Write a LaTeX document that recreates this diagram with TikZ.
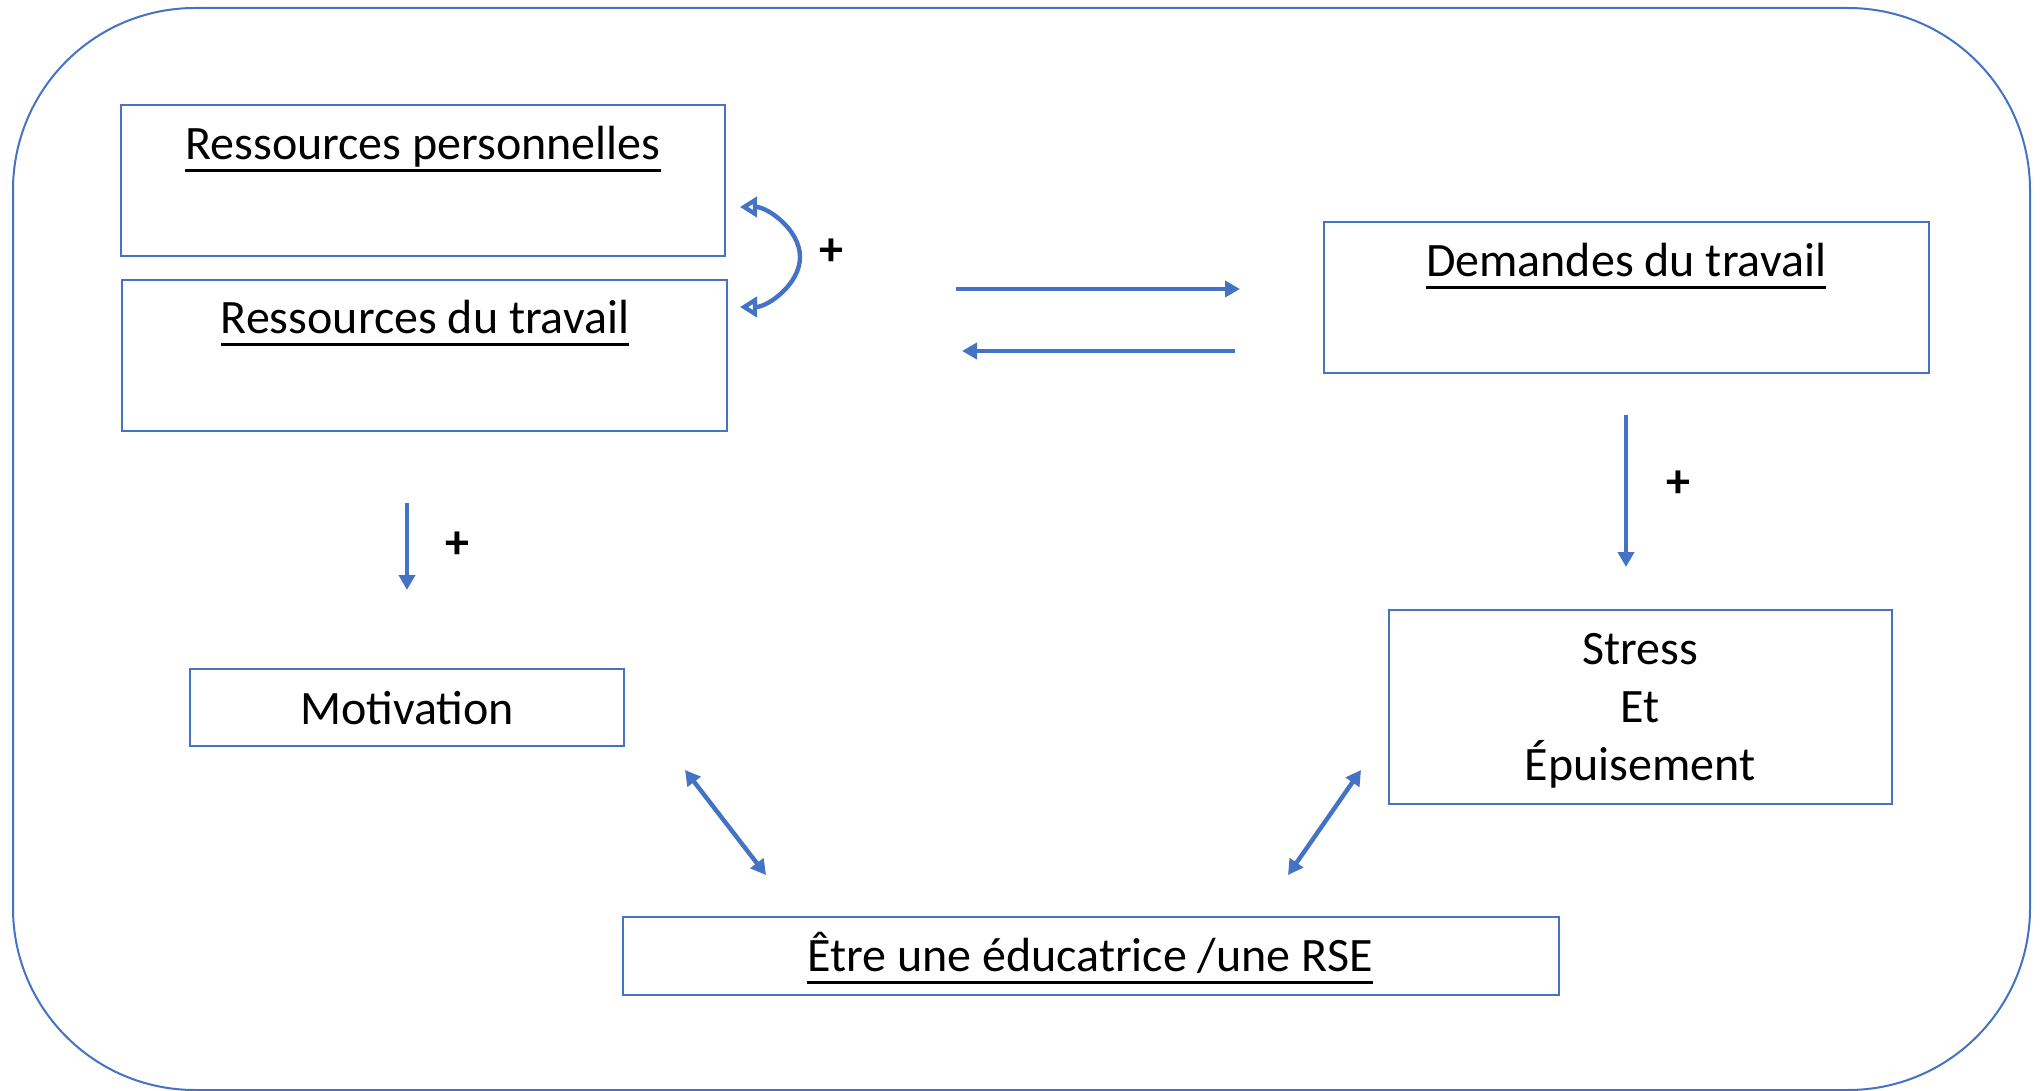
\documentclass[tikz,border=0pt]{standalone}
\usepackage{fontspec}
\setmainfont{Carlito}
\usetikzlibrary{arrows.meta}
\definecolor{bl}{HTML}{4472C4}
\newcommand\myul[1]{\setbox0\hbox{#1}\rlap{\rule[-6.2pt]{\wd0}{1.3pt}}\box0}
\begin{document}
\begin{tikzpicture}[x=0.5pt,y=-0.5pt,
  box/.style={draw=bl,line width=1pt,inner sep=0pt},
  lbl/.style={inner sep=0pt,font=\fontsize{24}{29}\selectfont,align=center},
  plus/.style={inner sep=0pt,font=\fontsize{24}{29}\selectfont\bfseries},
  arr/.style={draw=bl,line width=2.2pt,-{Triangle[length=7.5pt,width=8pt]}},
  darr/.style={draw=bl,line width=2.2pt,{Triangle[length=7.5pt,width=8pt]}-{Triangle[length=7.5pt,width=8pt]}},
  oarr/.style={draw=bl,line width=2.2pt,{Triangle[open,length=8.5pt,width=10pt]}-{Triangle[open,length=8.5pt,width=10pt]}}]
\useasboundingbox (0,0) rectangle (2040,1091);
\node[draw=bl,line width=1pt,rounded corners=91pt,minimum width=1008.5pt,minimum height=541pt,inner sep=0pt] (outer) at (1021.5,549) {};
% boxes
\node[box,minimum width=302pt,minimum height=75.5pt] (rp) at (423,180.5) {};
\node[box,minimum width=302.5pt,minimum height=75.5pt] (rt) at (424.5,355.5) {};
\node[box,minimum width=302.5pt,minimum height=75.5pt] (dt) at (1626.5,297.5) {};
\node[box,minimum width=217pt,minimum height=38.5pt] (mot) at (407,707.5) {};
\node[box,minimum width=251.5pt,minimum height=97pt] (st) at (1640.5,707) {};
\node[box,minimum width=468pt,minimum height=39pt] (et) at (1091,956) {};
% labels
\node[lbl] (rpl) at (423,149) {\myul{Ressources personnelles}};
\node[lbl] (rtl) at (425,323) {\myul{Ressources du travail}};
\node[lbl] (dtl) at (1626,266) {\myul{Demandes du travail}};
\node[lbl] (motl) at (407,708) {Motivation};
\node[lbl] (stl) at (1640,711) {Stress\\Et\\Épuisement};
\node[lbl] (etl) at (1090,958) {\myul{Être une éducatrice /une RSE}};
% plus signs
\node[plus] (p1) at (831,252) {+};
\node[plus] (p2) at (457,545) {+};
\node[plus] (p3) at (1678,484) {+};
% coordinates
\coordinate (c1) at (740,207);
\coordinate (c2) at (800,257);
\coordinate (c3) at (740,307);
\coordinate (a1) at (956,289);
\coordinate (a2) at (1240,289);
\coordinate (b1) at (1235,351);
\coordinate (b2) at (962,351);
\coordinate (d1) at (407,503);
\coordinate (d2) at (407,590);
\coordinate (e1) at (1626,415);
\coordinate (e2) at (1626,567);
\coordinate (f1) at (685,770);
\coordinate (f2) at (766,875);
\coordinate (g1) at (1361,770);
\coordinate (g2) at (1288,875);
% arrows
\draw[oarr] (c1) to[out=0,in=90,looseness=0.9] (c2) to[out=-90,in=0,looseness=0.9] (c3);
\draw[arr] (a1) -- (a2);
\draw[arr] (b1) -- (b2);
\draw[arr] (d1) -- (d2);
\draw[arr] (e1) -- (e2);
\draw[darr] (f1) -- (f2);
\draw[darr] (g1) -- (g2);
\end{tikzpicture}
\end{document}
